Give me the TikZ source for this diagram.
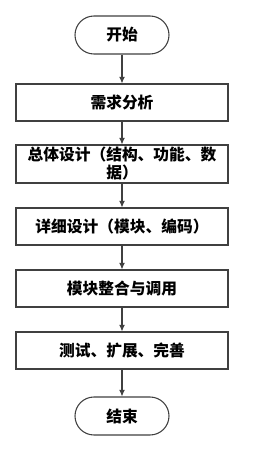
\documentclass[tikz,border=0pt]{standalone}
\usepackage{fontspec}
\newfontfamily\cjk{Noto Sans CJK SC}
\usetikzlibrary{arrows.meta}
\begin{document}
\begin{tikzpicture}[x=0.75pt,y=-0.75pt,
  every node/.style={font=\cjk\bfseries\fontsize{11.8pt}{13.5pt}\selectfont, text=black},
  procbox/.style={draw=black!75, line width=0.8pt, fill=white, minimum width=159pt, minimum height=27.75pt, inner sep=0pt, align=center},
  termbox/.style={draw=black!75, line width=0.8pt, fill=white, rounded corners=14.25pt, minimum width=70.5pt, minimum height=28.5pt, inner sep=0pt},
  flow/.style={draw=black!75, line width=0.8pt, -{Latex[length=5pt,width=4.5pt]}}]
\useasboundingbox (0,0) rectangle (266,449);
\fill[white] (0,0) rectangle (266,449);
\node[termbox] (start) at (122,35) {开始};
\node[procbox] (b1) at (122,102.5) {需求分析};
\node[procbox, minimum height=28.5pt] (b2) at (122,164) {总体设计（结构、功能、数\\据）};
\node[procbox] (b3) at (122,226.5) {详细设计（模块、编码）};
\node[procbox] (b4) at (122,288.5) {模块整合与调用};
\node[procbox] (b5) at (122,350.5) {测试、扩展、完善};
\node[termbox] (end) at (122,416) {结束};
\draw[flow] (start) -- (b1);
\draw[flow] (b1) -- (b2);
\draw[flow] (b2) -- (b3);
\draw[flow] (b3) -- (b4);
\draw[flow] (b4) -- (b5);
\draw[flow] (b5) -- (end);
\end{tikzpicture}
\end{document}
